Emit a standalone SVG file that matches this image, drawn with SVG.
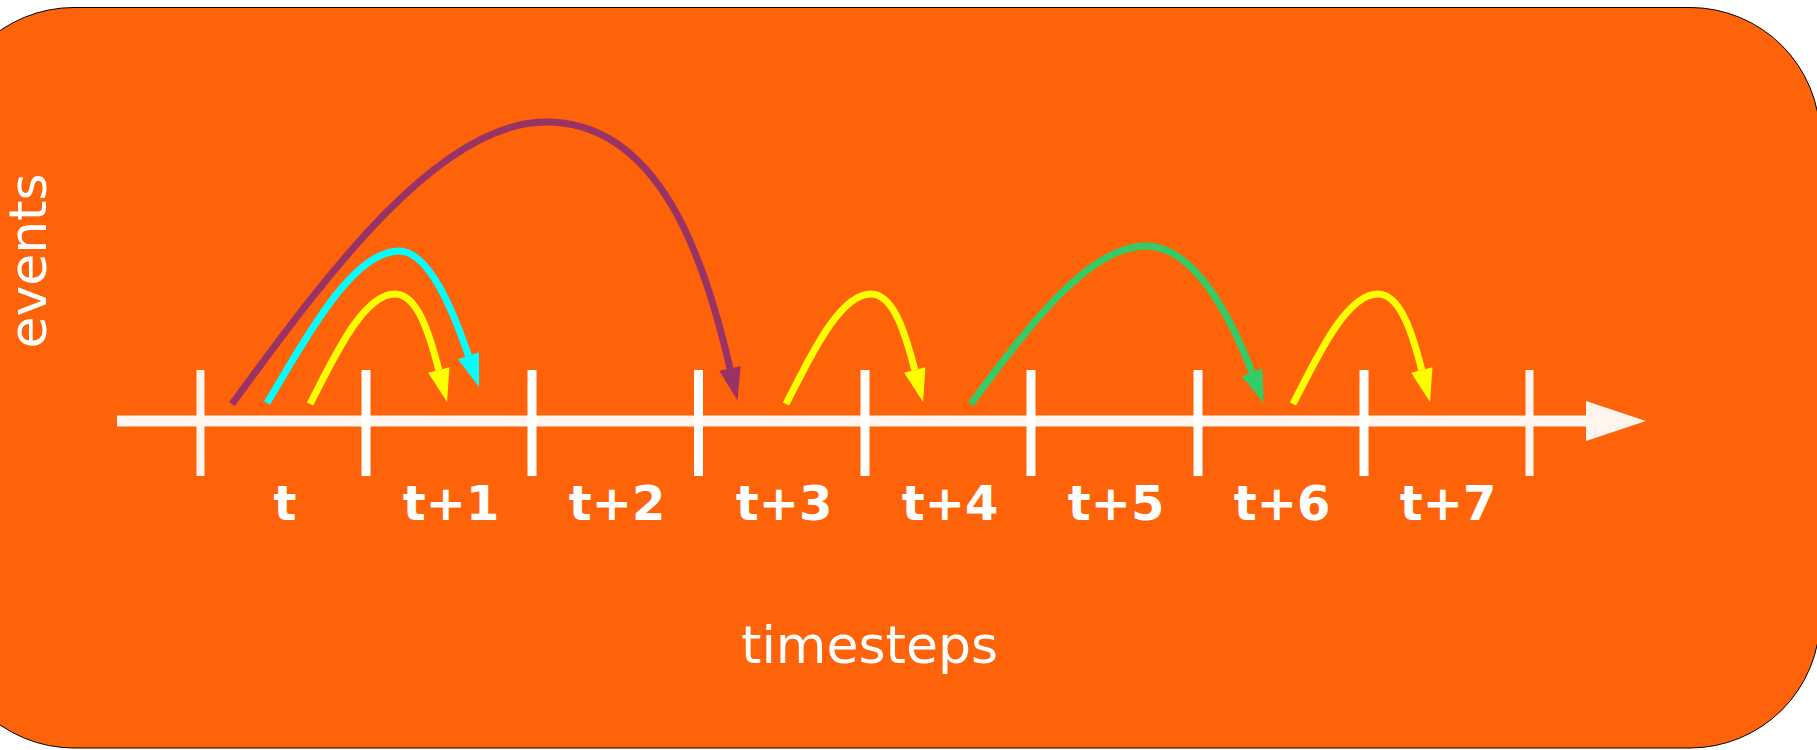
<svg xmlns="http://www.w3.org/2000/svg" width="1817" height="750" viewBox="0 0 1817 750">
<style>
.lbl{font-family:"DejaVu Sans","Liberation Sans",sans-serif;font-weight:bold;font-size:48px;fill:#ffffff;text-anchor:middle}
.ttl{font-family:"DejaVu Sans","Liberation Sans",sans-serif;font-size:52px;fill:#ffffff}
.tick{stroke:#ffffff;stroke-width:9}
.tickE{stroke:#fff5ee;stroke-width:8}
.c{fill:none;stroke-width:7;stroke-linecap:butt}
</style>
<defs>
<marker id="mP" markerUnits="userSpaceOnUse" viewBox="0 -12 34 24" markerWidth="34" markerHeight="24" refX="0" refY="0" orient="auto" overflow="visible"><path d="M0,-11 L33,0 L0,11 Z" fill="#993366"/></marker>
<marker id="mC" markerUnits="userSpaceOnUse" viewBox="0 -12 34 24" markerWidth="34" markerHeight="24" refX="0" refY="0" orient="auto" overflow="visible"><path d="M0,-11 L33,0 L0,11 Z" fill="#00ffff"/></marker>
<marker id="mY" markerUnits="userSpaceOnUse" viewBox="0 -12 34 24" markerWidth="34" markerHeight="24" refX="0" refY="0" orient="auto" overflow="visible"><path d="M0,-11 L33,0 L0,11 Z" fill="#ffff00"/></marker>
<marker id="mG" markerUnits="userSpaceOnUse" viewBox="0 -12 34 24" markerWidth="34" markerHeight="24" refX="0" refY="0" orient="auto" overflow="visible"><path d="M0,-11 L33,0 L0,11 Z" fill="#33cc66"/></marker>
</defs>
<g id="background">
<rect x="-56" y="7.5" width="1876" height="740.5" rx="130" ry="130" fill="#ff6309" stroke="#000000" stroke-width="1"/>
</g>
<g id="axis">
<line x1="117" y1="421" x2="1587" y2="421" stroke="#fff5ee" stroke-width="11"/>
<polygon points="1586,401 1646,421 1586,441" fill="#fff5ee"/>
<line class="tickE" x1="200.5" y1="370" x2="200.5" y2="476"/>
<line class="tick" x1="366" y1="370" x2="366" y2="476"/>
<line class="tick" x1="532" y1="370" x2="532" y2="476"/>
<line class="tick" x1="698.5" y1="370" x2="698.5" y2="476"/>
<line class="tick" x1="865" y1="370" x2="865" y2="476"/>
<line class="tick" x1="1031" y1="370" x2="1031" y2="476"/>
<line class="tick" x1="1198" y1="370" x2="1198" y2="476"/>
<line class="tick" x1="1364" y1="370" x2="1364" y2="476"/>
<line class="tickE" x1="1529.5" y1="370" x2="1529.5" y2="476"/>
</g>
<g id="labels">
<text class="lbl" x="285" y="520">t</text>
<text class="lbl" x="451" y="520">t+1</text>
<text class="lbl" x="617" y="520">t+2</text>
<text class="lbl" x="784" y="520">t+3</text>
<text class="lbl" x="950" y="520">t+4</text>
<text class="lbl" x="1116" y="520">t+5</text>
<text class="lbl" x="1282" y="520">t+6</text>
<text class="lbl" x="1448" y="520">t+7</text>
</g>
<g id="axis-titles">
<text class="ttl" x="741" y="663">timesteps</text>
<text class="ttl" text-anchor="middle" transform="translate(46,261) rotate(-90)">events</text>
</g>
<g id="connectors">
<path class="c" stroke="#993366" marker-end="url(#mP)" d="M232,404 C330,270 440,122 546,122 C660,122 705,260 730,368.4"/>
<path class="c" stroke="#00ffff" marker-end="url(#mC)" d="M267,403 C300,349 350,251 399,251 C430,251 455,316 468.5,355.8"/>
<path class="c" stroke="#ffff00" marker-end="url(#mY)" d="M310,404 C332,362 362,294 395,294 C418,294 430,336 438.8,370"/>
<path class="c" stroke="#ffff00" marker-end="url(#mY)" transform="translate(476,0)" d="M310,404 C332,362 362,294 395,294 C418,294 430,336 438.8,370"/>
<path class="c" stroke="#33cc66" marker-end="url(#mG)" d="M971,404 C1030,323 1090,246 1146,246 C1195,246 1232,320 1252,372.3"/>
<path class="c" stroke="#ffff00" marker-end="url(#mY)" transform="translate(983,0)" d="M310,404 C332,362 362,294 395,294 C418,294 430,336 438.8,370"/>
</g>
</svg>
